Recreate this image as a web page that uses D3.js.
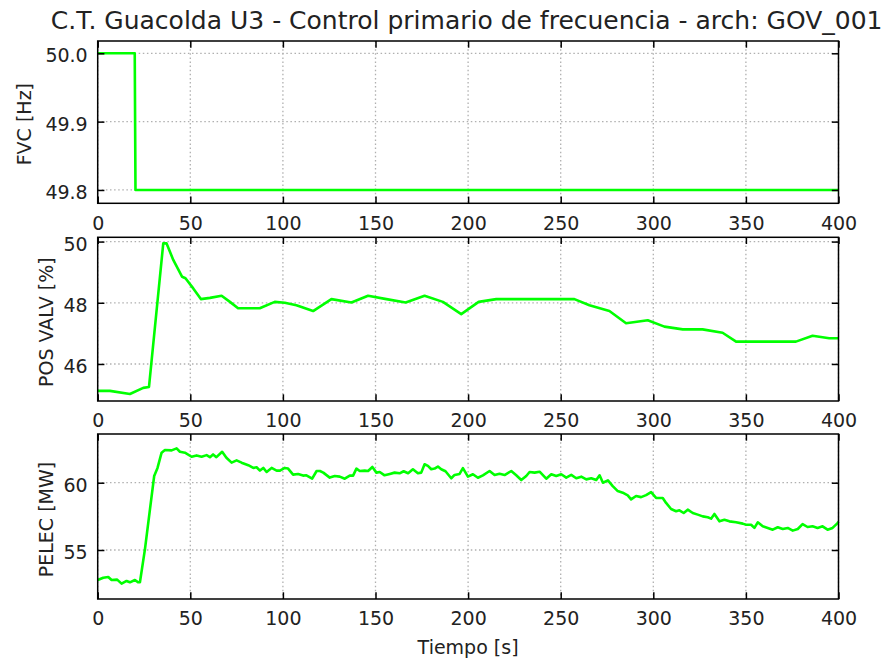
<!DOCTYPE html>
<html>
<head>
<meta charset="utf-8">
<script src="https://cdn.jsdelivr.net/npm/d3@7"></script>
<style>
  html, body { margin: 0; padding: 0; background: #fff; }
  svg { display: block; font-family: "DejaVu Sans", sans-serif; }
</style>
</head>
<body>
<svg id="chart" width="885" height="660"></svg>
<script>
// Time axis shared by all three panels
const timeTicks = [0, 50, 100, 150, 200, 250, 300, 350, 400];

// FVC: frequency setpoint step at t = 20 s
const fvcT = [0, 20, 20.4, 400];
const fvcV = [50.0, 50.0, 49.8, 49.8];
const fvcTicks = [49.8, 49.9, 50.0];

// POS VALV: valve position [%]
const posT = [0, 6.6, 17.4, 24.6, 27.7, 35.4, 37.2, 40.8, 45.6, 47.4, 51.6, 55.7, 60.6, 66.9, 71.4, 75.8,
  87.5, 95.6, 101, 107.3, 116.3, 126.2, 137, 146, 155.9, 166.3, 176.5, 186.4, 196.3, 205.7, 215.2,
  257.4, 265.5, 276.3, 285.3, 297, 306, 315.9, 326.6, 337.4, 344.7, 377, 386, 395, 400];
const posV = [45.12, 45.12, 45.02, 45.22, 45.25, 49.94, 49.94, 49.4, 48.85, 48.8, 48.47, 48.12, 48.16, 48.23, 48.03, 47.82,
  47.82, 48.03, 48.0, 47.92, 47.73, 48.12, 48.01, 48.23, 48.12, 48.01, 48.23, 48.03, 47.63, 48.03, 48.12,
  48.12, 47.92, 47.73, 47.33, 47.43, 47.22, 47.13, 47.13, 47.02, 46.73, 46.73, 46.92, 46.84, 46.84];
const posTicks = [46, 48, 50];

// PELEC: electrical power [MW]
const pelT = [0, 3, 5.7, 7.5, 10.5, 12.9, 15.6, 17.4, 20.1, 21.9, 22.8, 25.5, 28.2, 30.5, 32.3, 34.5, 36.3, 39.9,
  42.6, 44.4, 47.1, 50.7, 53.4, 56.1, 58.8, 60.6, 62.3, 64.1, 67.2, 69.5, 72.3, 75, 77.7, 81.3, 84, 85.8, 87.6,
  89.4, 91.2, 93.9, 96.6, 98.4, 101, 102.8, 105.5, 108.2, 110.9, 112.7, 115.8, 118.2, 120, 121.8, 125.3, 128,
  130.7, 133.4, 136.1, 137.9, 139.7, 141.5, 144.2, 146, 148.3, 150.5, 152.3, 154.9, 157.7, 160.3, 163, 165.2,
  167.6, 170.2, 172.9, 174.7, 176.5, 178.3, 180.1, 181.9, 183.7, 185.5, 187.8, 190.9, 192.7, 195.4, 197.2, 199.9,
  202.6, 205.3, 208, 211.6, 214.3, 217, 219.7, 223.3, 226, 228.7, 231.4, 233.2, 235.9, 238.6, 242.2, 244.9,
  247.6, 250.3, 253, 255.7, 258.4, 261.1, 263.8, 266.5, 269.2, 271, 272.8, 275.5, 278.1, 280.8, 283.5, 286.2,
  288, 290.7, 293.4, 296.1, 298.8, 301.5, 305.1, 306.9, 309.6, 312.3, 314.1, 316.4, 318.6, 321.3, 324, 326.7,
  329.4, 331.2, 333, 335.7, 338.4, 341.1, 344.7, 348.3, 350.1, 352.8, 354.6, 356.4, 359.1, 361.8, 364.5, 367.2,
  369.9, 372.6, 375.3, 378, 380.6, 383.3, 386, 388.7, 391.4, 394.1, 396.8, 399.5, 400];
const pelV = [52.77, 52.94, 53.0, 52.77, 52.8, 52.5, 52.7, 52.6, 52.77, 52.6, 52.6, 55.05, 58.0, 60.5, 61.1, 62.23, 62.43, 62.4,
  62.55, 62.3, 62.23, 61.93, 62.03, 61.93, 62.05, 61.9, 62.1, 61.9, 62.3, 61.85, 61.49, 61.66, 61.49, 61.3, 61.1, 61.15, 60.9,
  61.1, 60.8, 61.1, 60.9, 60.9, 61.1, 61.05, 60.6, 60.65, 60.53, 60.55, 60.3, 60.87, 60.87, 60.75, 60.38, 60.5,
  60.45, 60.3, 60.53, 60.53, 61.05, 60.87, 60.9, 60.87, 61.17, 60.75, 60.8, 60.55, 60.65, 60.75, 60.7, 60.85,
  60.7, 61.0, 60.7, 60.75, 61.37, 61.25, 61.0, 61.05, 61.2, 61.0, 60.85, 60.33, 60.58, 60.65, 61.08, 60.45,
  60.63, 60.37, 60.55, 60.87, 60.57, 60.67, 60.57, 60.87, 60.55, 60.2, 60.5, 60.8, 60.75, 60.82, 60.3, 60.63,
  60.5, 60.63, 60.38, 60.58, 60.33, 60.45, 60.25, 60.33, 60.2, 60.55, 60.0, 60.18, 59.75, 59.38, 59.26, 59.06,
  58.76, 59.01, 58.93, 59.08, 59.3, 58.87, 58.87, 58.5, 58.05, 57.88, 57.95, 57.75, 58.0, 57.75, 57.63, 57.5,
  57.43, 57.33, 57.68, 57.13, 57.25, 57.13, 57.06, 56.96, 56.88, 56.88, 56.64, 57.06, 56.76, 56.64, 56.51, 56.69,
  56.56, 56.64, 56.44, 56.56, 56.93, 56.71, 56.76, 56.64, 56.76, 56.51, 56.64, 57.0, 57.1];
const pelTicks = [55, 60];

const titleText = "C.T. Guacolda U3 - Control primario de frecuencia - arch: GOV_001";
const xLabelText = "Tiempo [s]";

const svg = d3.select("#chart");
const left = 97.7, right = 838.5;
const x = d3.scaleLinear().domain([0, 400]).range([left, right]);

const panels = [
  { t: fvcT, v: fvcV, ticks: fvcTicks, fmt: d3.format(".1f"), domain: [49.7805, 50.018], top: 41, bottom: 203.3,
    label: "FVC [Hz]", labelX: 31, labelDy: 2 },
  { t: posT, v: posV, ticks: posTicks, fmt: d3.format("d"), domain: [44.79, 50.14], top: 237.3, bottom: 401,
    label: "POS VALV [%]", labelX: 52.5, labelDy: 3 },
  { t: pelT, v: pelV, ticks: pelTicks, fmt: d3.format("d"), domain: [51.36, 63.62], top: 434, bottom: 599,
    label: "PELEC [MW]", labelX: 52.5, labelDy: 3 }
];

const tickLen = 6.7;
const fontSize = 19;

panels.forEach(p => {
  const y = d3.scaleLinear().domain(p.domain).range([p.bottom, p.top]);
  const g = svg.append("g");

  // dotted grid
  g.append("g").selectAll("line.gx").data(timeTicks).join("line")
    .attr("x1", d => x(d)).attr("x2", d => x(d))
    .attr("y1", p.top).attr("y2", p.bottom)
    .attr("stroke", "#b0b0b0").attr("stroke-width", 1.3).attr("stroke-dasharray", "1.5,2.6");
  g.append("g").selectAll("line.gy").data(p.ticks).join("line")
    .attr("x1", left).attr("x2", right)
    .attr("y1", d => y(d)).attr("y2", d => y(d))
    .attr("stroke", "#b0b0b0").attr("stroke-width", 1.3).attr("stroke-dasharray", "1.5,2.6");

  // data line
  const pts = p.t.map((t, i) => [t, p.v[i]]);
  g.append("path").datum(pts)
    .attr("fill", "none").attr("stroke", "#00ff00").attr("stroke-width", 2.6)
    .attr("stroke-linejoin", "round")
    .attr("d", d3.line().x(d => x(d[0])).y(d => y(d[1])));

  // axes with inward ticks on all four sides
  const axB = g.append("g").attr("transform", `translate(0,${p.bottom})`)
    .call(d3.axisBottom(x).tickValues(timeTicks).tickSize(-tickLen).tickPadding(13));
  const axT = g.append("g").attr("transform", `translate(0,${p.top})`)
    .call(d3.axisTop(x).tickValues(timeTicks).tickSize(-tickLen).tickFormat(""));
  const axL = g.append("g").attr("transform", `translate(${left},0)`)
    .call(d3.axisLeft(y).tickValues(p.ticks).tickSize(-tickLen).tickPadding(10).tickFormat(p.fmt));
  const axR = g.append("g").attr("transform", `translate(${right},0)`)
    .call(d3.axisRight(y).tickValues(p.ticks).tickSize(-tickLen).tickFormat(""));
  [axB, axT, axL, axR].forEach(a => {
    a.select(".domain").remove();
    a.selectAll(".tick line").attr("stroke", "#000").attr("stroke-width", 1.5);
    a.selectAll("text").attr("fill", "#222").style("font-size", fontSize + "px")
      .style("font-family", "DejaVu Sans, sans-serif");
  });
  axL.selectAll("text").attr("dy", "0.45em");

  // frame
  g.append("rect").attr("x", left).attr("y", p.top)
    .attr("width", right - left).attr("height", p.bottom - p.top)
    .attr("fill", "none").attr("stroke", "#000").attr("stroke-width", 1.5);

  // y label
  const cy = (p.top + p.bottom) / 2 + p.labelDy;
  g.append("text").attr("transform", `translate(${p.labelX},${cy}) rotate(-90)`)
    .attr("text-anchor", "middle").attr("fill", "#222")
    .style("font-size", fontSize + "px").text(p.label);
});

// title and x label
svg.append("text").attr("x", (left + right) / 2 - 1.5).attr("y", 29)
  .attr("text-anchor", "middle").attr("fill", "#222").style("font-size", "25px").text(titleText);
svg.append("text").attr("x", (left + right) / 2).attr("y", 654)
  .attr("text-anchor", "middle").attr("fill", "#222").style("font-size", fontSize + "px").text(xLabelText);
</script>
</body>
</html>
